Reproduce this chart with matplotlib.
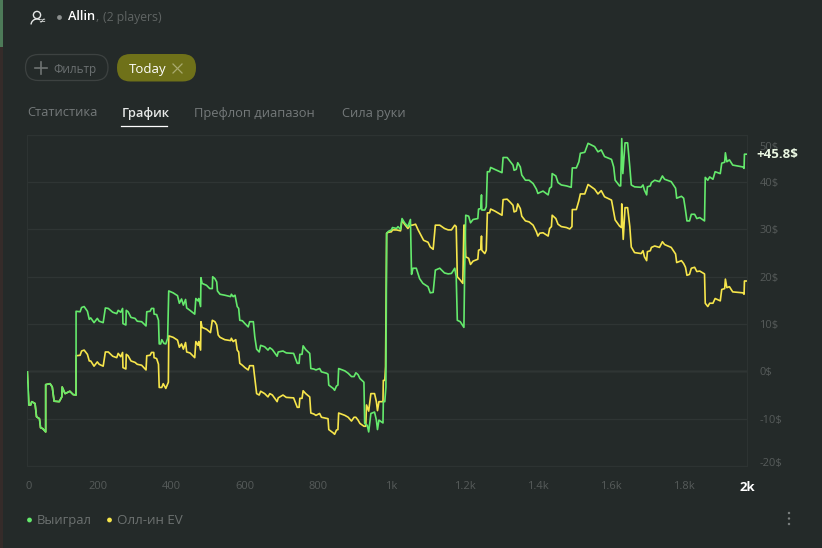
import matplotlib
matplotlib.use("Agg")
import matplotlib.pyplot as plt
from matplotlib.patches import Arc, Circle, FancyBboxPatch, Rectangle
from matplotlib.transforms import ScaledTranslation

# Chart data: hands played / winnings in $
won_hands = [1, 5, 10, 13, 22, 26, 34, 37, 43, 51, 51, 63, 69, 74, 88, 95, 96, 104, 117, 126, 134,
    134, 145, 149, 156, 165, 170, 174, 183, 192, 197, 208, 214, 222, 234, 245, 249, 256, 261, 262, 270, 271, 276, 284, 295, 301, 313, 325, 327, 336, 340, 346, 347, 354, 359, 361, 365, 368, 374, 379, 384, 387, 399, 411, 416, 422, 427, 433, 436, 445, 458, 461, 467, 469, 474, 475, 478, 490, 499, 506, 507, 513, 518, 520, 527, 540, 556, 558, 563, 568, 574, 578, 581, 588, 595, 604, 608, 618, 622, 627, 634, 638, 649, 658,
    663, 670, 683, 686, 699, 708, 728, 738, 743, 745, 751, 754, 761, 772, 775, 783, 789, 799, 804, 818, 822, 824, 836, 840, 845, 849, 851, 868, 877, 886, 893, 898, 904, 909, 920, 922, 929, 933, 939, 949, 954, 957, 961, 972, 973, 977, 980, 982, 987, 995, 998, 1009, 1013, 1020, 1024, 1031, 1040, 1047, 1050, 1054, 1063, 1072, 1081, 1095, 1101, 1109, 1115, 1127, 1140, 1150, 1159, 1168, 1172, 1175, 1183, 1193, 1195, 1198, 1206, 1211, 1218, 1231, 1233, 1239, 1241, 1242, 1250, 1254, 1257, 1263, 1266, 1277, 1297, 1300, 1311, 1320, 1327, 1330, 1336, 1340, 1347, 1351, 1361, 1371, 1382, 1391, 1395,
    1400, 1409, 1423, 1427, 1432, 1434, 1444, 1450, 1459, 1473, 1486, 1489, 1500, 1507, 1511, 1523, 1532, 1550, 1559, 1568, 1577, 1596, 1602, 1606, 1618, 1621, 1624, 1627, 1633, 1640, 1646, 1650, 1659, 1677, 1682, 1686, 1692, 1694, 1702, 1705, 1714, 1727, 1735, 1741, 1759, 1771, 1774, 1787, 1793, 1798, 1802, 1809, 1814, 1823, 1829, 1837, 1850, 1852, 1859, 1864, 1873, 1879, 1893, 1897, 1905, 1907, 1911, 1918, 1927, 1955, 1958, 1959, 1966]
won_values = [-0.1, -7.1, -7.1, -6.4, -6.8, -9.6, -10.0, -11.9, -12.1, -12.8, -2.8, -2.6, -3.3, -6.3, -6.4, -5.4, -3.3, -4.7, -4.2, -4.9, -5.0,
    12.7, 12.6, 13.5, 13.7, 12.7, 11.0, 11.3, 10.3, 11.2, 10.6, 10.3, 13.4, 13.3, 12.5, 12.2, 12.9, 12.5, 13.3, 10.1, 9.8, 12.9, 12.6, 11.4, 11.2, 10.6, 10.5, 9.6, 12.6, 12.7, 13.3, 13.3, 12.1, 12.0, 10.8, 5.8, 5.8, 6.7, 5.9, 5.8, 7.0, 17.0, 16.6, 16.0, 14.4, 15.3, 14.0, 15.2, 13.4, 12.9, 12.1, 15.4, 14.9, 15.4, 13.7, 19.8, 18.6, 18.2, 17.5, 17.5, 20.0, 19.6, 18.9, 17.0, 16.3, 16.1, 15.8, 16.3, 15.8, 16.1, 13.7, 13.3, 10.8, 10.7, 10.1, 9.4, 10.5, 10.5, 7.3, 4.7, 4.1, 5.5, 5.2, 4.5,
    5.0, 4.6, 3.2, 4.1, 4.3, 3.9, 3.8, 1.7, 1.7, 3.6, 3.6, 5.4, 4.6, 3.8, 0.6, 0.5, 0.3, 0.6, -0.1, -0.4, -0.6, -2.9, -3.6, -4.0, -3.1, -2.9, 0.6, 0.1, -0.4, -1.1, -1.1, -0.3, -0.7, -1.5, -2.3, -11.0, -11.4, -12.8, -8.9, -8.6, -10.3, -12.3, -10.3, -10.9, -6.4, -6.4, -3.3, 29.2, 29.6, 29.9, 30.4, 30.2, 30.6, 30.0, 32.3, 31.4, 30.6, 32.1, 20.5, 21.8, 21.8, 19.6, 18.6, 17.9, 16.6, 16.7, 21.4, 21.8, 20.8, 20.6, 20.7, 21.8, 20.0, 10.8, 10.5, 9.3, 21.0, 33.0, 32.8, 31.4, 32.1, 32.3, 34.3, 34.4, 37.3, 34.1, 34.1, 34.8, 42.2, 42.2, 43.1, 42.7, 42.0, 45.2, 45.2, 44.3, 43.6, 42.5, 42.7, 44.1, 43.2, 41.5, 40.4, 40.4, 39.7, 38.5, 37.6,
    37.8, 38.1, 37.3, 38.7, 39.0, 41.8, 41.3, 39.9, 39.4, 39.2, 38.9, 43.0, 43.0, 44.3, 46.1, 46.3, 48.2, 47.5, 46.4, 46.8, 45.4, 44.8, 43.2, 40.4, 39.2, 39.2, 49.2, 41.8, 48.3, 48.3, 43.2, 39.4, 39.0, 38.9, 39.4, 38.3, 37.3, 39.0, 39.2, 39.9, 40.4, 40.1, 41.3, 40.6, 40.1, 38.7, 36.6, 37.0, 36.6, 34.1, 31.8, 31.8, 33.2, 33.2, 32.3, 32.5, 31.8, 41.0, 40.4, 41.1, 40.6, 42.2, 41.8, 44.0, 44.2, 46.2, 44.3, 44.7, 43.6, 43.2, 42.9, 45.9, 45.9]

# all-in EV follows the winnings exactly until hand 134
ev_hands = won_hands[:21] + [134, 145, 149, 156, 165, 170, 174, 183, 192, 197, 208, 214, 222, 234, 245, 249, 256, 261, 262, 270, 271, 276, 284, 295, 301, 313, 325, 327, 336, 340, 346, 347, 354, 359, 361, 368, 372, 379, 386, 387, 399, 411, 416, 422, 427, 433, 436, 445, 458, 461, 467, 469, 474, 475, 478, 490, 501, 506, 513, 518, 522, 527, 540, 556, 558, 563, 570, 574, 578, 581, 588, 595, 604, 608, 618, 622, 627, 634, 638, 649, 658,
    663, 670, 683, 686, 699, 708, 728, 738, 743, 745, 751, 754, 761, 772, 775, 783, 789, 799, 804, 822, 824, 836, 840, 845, 849, 851, 868, 877, 886, 893, 898, 904, 909, 920, 925, 927, 933, 939, 949, 954, 957, 961, 972, 973, 977, 979, 982, 987, 995, 998, 1009, 1020, 1024, 1031, 1040, 1047, 1052, 1061, 1068, 1077, 1083, 1095, 1101, 1109, 1115, 1127, 1140, 1150, 1159, 1168, 1172, 1175, 1183, 1190, 1193, 1196, 1198, 1206, 1211, 1218, 1231, 1233, 1239, 1241, 1242, 1250, 1254, 1257, 1263, 1266, 1277, 1297, 1300, 1311, 1320, 1327, 1330, 1336, 1340, 1347, 1351, 1361, 1371, 1382, 1391, 1395,
    1400, 1409, 1423, 1427, 1432, 1434, 1444, 1450, 1459, 1473, 1482, 1488, 1489, 1500, 1507, 1511, 1523, 1532, 1550, 1559, 1568, 1577, 1596, 1602, 1606, 1618, 1623, 1624, 1628, 1633, 1640, 1646, 1650, 1659, 1677, 1682, 1686, 1692, 1694, 1702, 1705, 1714, 1727, 1735, 1741, 1759, 1771, 1774, 1787, 1793, 1798, 1802, 1809, 1814, 1823, 1829, 1837, 1850, 1852, 1859, 1864, 1873, 1879, 1893, 1897, 1905, 1907, 1911, 1918, 1927, 1955, 1958, 1959, 1966]
ev_values = won_values[:21] + [3.3, 3.4, 4.3, 4.5, 3.6, 2.2, 2.2, 1.1, 2.0, 1.5, 1.1, 4.1, 4.1, 3.2, 2.9, 3.8, 3.1, 4.0, 0.8, 0.5, 3.6, 3.3, 2.2, 1.9, 1.5, 1.3, 0.3, 3.3, 3.4, 4.0, 4.0, 2.9, 2.7, 1.5, -3.4, -3.4, -2.6, -3.6, -2.3, 7.5, 7.2, 6.6, 5.1, 5.8, 4.7, 6.1, 4.1, 3.9, 2.9, 6.3, 5.5, 6.3, 4.5, 10.5, 9.3, 8.9, 8.2, 10.8, 10.5, 9.8, 7.7, 7.2, 6.7, 6.5, 7.0, 6.3, 6.7, 4.5, 4.1, 1.7, 1.3, 0.8, 0.3, 1.2, 1.2, -1.5, -4.7, -5.0, -4.2, -4.7, -5.4,
    -4.7, -5.0, -6.4, -5.6, -5.0, -5.5, -5.6, -7.6, -7.6, -5.7, -5.7, -4.1, -4.7, -5.4, -8.8, -9.0, -9.3, -8.9, -9.7, -10.0, -12.3, -13.0, -13.3, -12.4, -12.3, -8.8, -9.3, -9.7, -10.5, -9.7, -9.7, -10.3, -11.0, -11.6, -11.6, -7.1, -8.4, -4.7, -4.7, -6.4, -8.3, -6.4, -6.4, -1.9, -1.9, 1.0, 29.2, 29.4, 29.5, 29.9, 29.9, 29.7, 32.0, 31.1, 30.2, 30.9, 30.9, 31.1, 29.9, 28.6, 27.7, 27.3, 26.3, 25.8, 30.9, 30.9, 30.2, 29.9, 29.9, 30.9, 30.6, 20.0, 19.3, 18.6, 30.9, 30.9, 24.2, 23.9, 22.6, 23.3, 23.7, 25.6, 25.8, 28.6, 25.6, 24.9, 25.6, 33.5, 33.5, 34.3, 33.9, 33.0, 36.3, 36.4, 35.7, 35.1, 33.7, 33.9, 35.4, 34.4, 32.8, 31.8, 31.6, 30.9, 29.5, 28.6,
    29.2, 29.3, 28.6, 30.2, 30.6, 33.0, 32.3, 31.1, 30.6, 30.4, 30.1, 30.6, 34.2, 34.2, 36.1, 37.5, 37.5, 39.5, 38.5, 37.5, 38.2, 36.9, 36.2, 33.7, 32.0, 30.7, 30.4, 35.4, 27.9, 34.6, 34.6, 30.6, 26.3, 25.1, 24.9, 25.5, 24.2, 23.4, 25.3, 25.5, 26.2, 26.5, 26.2, 27.4, 26.8, 26.2, 24.8, 23.0, 23.4, 22.8, 22.0, 20.3, 20.5, 21.8, 22.0, 21.1, 21.2, 20.6, 14.4, 13.7, 14.4, 14.4, 15.4, 14.9, 17.3, 17.5, 19.5, 17.7, 17.9, 16.8, 16.6, 16.3, 19.1, 19.1]

x_ticks = [0, 200, 400, 600, 800, 1000, 1200, 1400, 1600, 1800, 1966]
x_labels = ['0', '200', '400', '600', '800', '1k', '1.2k', '1.4k', '1.6k', '1.8k', '2k']
y_ticks = [-20, -10, 0, 10, 20, 30, 40, 50]
y_labels = ['-20$', '-10$', '0$', '10$', '20$', '30$', '40$', '50$']
tabs = ['Статистика', 'График', 'Префлоп диапазон', 'Сила руки']
tab_x = [27, 122, 194, 342]
last_result = '+45.8$'

BG = '#242a29'
GREEN = '#64e96c'
YELLOW = '#f6e54b'
MUTED = '#74797a'
AXIS_TEXT = '#565b5a'
W, H = 822, 548

plt.rcParams['font.family'] = ['Open Sans', 'DejaVu Sans']

fig = plt.figure(figsize=(W / 100, H / 100), dpi=100, facecolor=BG)

def px_shift(dx, dy):
    return ScaledTranslation(dx / 100, dy / 100, fig.dpi_scale_trans)

# Chart area
ax = fig.add_axes([27 / W, 1 - 466 / H, 720 / W, 331.2 / H], facecolor=BG)
ax.plot(won_hands, won_values, color=GREEN, lw=1.2, zorder=3, solid_joinstyle='round')
ax.plot(ev_hands, ev_values, color=YELLOW, lw=1.2, zorder=2, solid_joinstyle='round')
ax.set_xlim(0, 1966)
ax.set_ylim(-20, 50)
ax.set_yticks(y_ticks, y_labels)
ax.set_xticks(x_ticks, x_labels)
ax.yaxis.tick_right()
ax.tick_params(length=0)
ax.tick_params(axis='y', pad=9, labelsize=8, labelcolor=AXIS_TEXT)
ax.tick_params(axis='x', pad=10.5, labelsize=8, labelcolor=AXIS_TEXT)
ax.grid(axis='y', color='#2f3534', lw=0.9)
ax.axhline(0, color='#454a49', lw=1.0, zorder=1)
for side in ax.spines.values():
    side.set_color('#2d3332')
    side.set_linewidth(0.8)

# the outer labels sit inside the plot's height, not on their gridlines
ylabs = ax.get_yticklabels()
ylabs[0].set_transform(ylabs[0].get_transform() + px_shift(0, 4))
ylabs[-1].set_transform(ylabs[-1].get_transform() + px_shift(0, -11))

xlabs = ax.get_xticklabels()
for lab in xlabs[:-1]:
    lab.set_transform(lab.get_transform() + px_shift(-2, 0))
xlabs[0].set_ha('left')
xlabs[-1].set_color('white')
xlabs[-1].set_fontweight('bold')
xlabs[-1].set_fontsize(9.5)

ax.annotate(last_result, (1966, won_values[-1]), xytext=(7, -0.5), textcoords='offset points',
            color='#eaf7e2', fontsize=9.5, fontweight='bold', va='center', annotation_clip=False, zorder=5)

# Page furniture around the chart, in pixels of the screenshot
ui = fig.add_axes([0, 0, 1, 1], facecolor='none')
ui.set_xlim(0, W)
ui.set_ylim(H, 0)
ui.axis('off')

ui.add_patch(Rectangle((0, 0), 3, 47, color='#4d7a58', lw=0))
ui.add_patch(Rectangle((0, 47), 3, H - 47, color='#352b29', lw=0))

# player icon
ui.add_patch(Circle((37, 15), 3.6, fill=False, ec='#e4e6e5', lw=1.0))
ui.add_patch(Arc((37, 25), 12, 12, theta1=185, theta2=300, ec='#e4e6e5', lw=1.0))
ui.text(42, 21, '≠', color='#e4e6e5', fontsize=6, ha='center', va='center', family='DejaVu Sans')

ui.add_patch(Circle((59.5, 17.5), 2.4, color='#8b8f8e', lw=0))
ui.text(68, 17, 'Allin', color='white', fontsize=9.2, fontweight='semibold', va='center')
ui.text(95, 17, ',', color='#5f6463', fontsize=9, va='center')
ui.text(103, 17, '(2 players)', color='#5f6463', fontsize=8.8, va='center')

# filter pills
ui.add_patch(FancyBboxPatch((25.5, 54.5), 82.5, 26, boxstyle='round,pad=0,rounding_size=13',
                            fc=BG, ec='#3d4241', lw=0.9))
ui.plot([35, 47], [68, 68], color='#6f7473', lw=1.2)
ui.plot([41, 41], [62, 74], color='#6f7473', lw=1.2)
ui.text(53, 69, 'Фильтр', color='#6b7071', fontsize=8.5, va='center')
ui.add_patch(FancyBboxPatch((117, 54), 79, 27.5, boxstyle='round,pad=0,rounding_size=13.5',
                            fc='#6f7119', ec='none'))
ui.text(129, 69, 'Today', color='white', fontsize=9.5, fontweight='medium', va='center')
ui.plot([173, 182], [64, 73], color='#a9aa6e', lw=0.9)
ui.plot([173, 182], [73, 64], color='#a9aa6e', lw=0.9)

# tabs
for name, x in zip(tabs, tab_x):
    active = name == 'График'
    ui.text(x, 113, name, color='#e6e8e7' if active else MUTED, fontsize=9.3,
            fontweight='semibold' if active else 'normal', va='center')
ui.plot([121, 167], [125.5, 125.5], color='white', lw=0.9)

# legend
ui.add_patch(Circle((29.5, 520), 2.4, color=GREEN, lw=0))
ui.text(37, 520.5, 'Выиграл', color='#6c7170', fontsize=9.4, va='center')
ui.add_patch(Circle((109.5, 520), 2.4, color=YELLOW, lw=0))
ui.text(117, 520.5, 'Олл-ин EV', color='#6c7170', fontsize=9.6, va='center')

for y in [513, 518.5, 524]:
    ui.add_patch(Circle((789, y), 1.2, color='#7c8180', lw=0))

fig.savefig('out.png', dpi=100, facecolor=BG)
